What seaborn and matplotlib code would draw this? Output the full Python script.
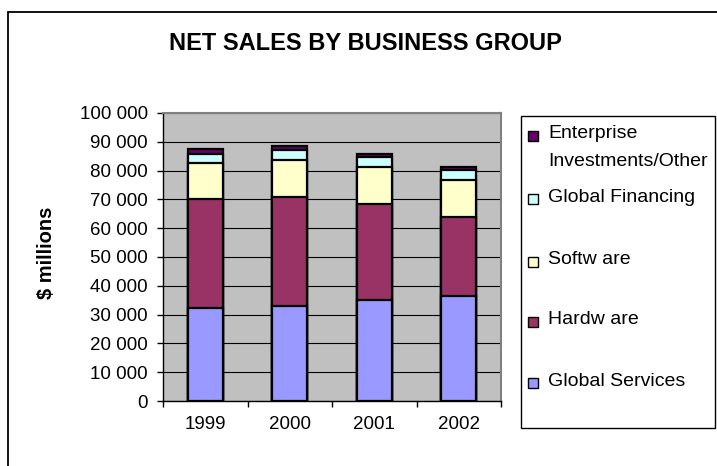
import matplotlib
matplotlib.use("Agg")
import matplotlib.pyplot as plt
from matplotlib.patches import Rectangle
from matplotlib.ticker import FuncFormatter, FixedLocator
import seaborn as sns
import pandas as pd

# Net sales by business group, $ millions
years = ["1999", "2000", "2001", "2002"]
global_services = [32172, 33152, 34956, 36360]
hardware = [37888, 37777, 33392, 27456]
software = [12662, 12598, 12939, 13074]
global_financing = [3137, 3465, 3426, 3232]
enterprise_other = [1689, 1404, 1153, 1064]

groups = ["Global Services", "Hardware", "Software", "Global Financing",
          "Enterprise Investments/Other"]
legend_labels = ["Global Services", "Hardw are", "Softw are", "Global Financing",
                 "Enterprise\nInvestments/Other"]
colors = ["#9999FF", "#993366", "#FFFFCC", "#CCFFFF", "#660066"]

df = pd.DataFrame({
    "year": years,
    "Global Services": global_services,
    "Hardware": hardware,
    "Software": software,
    "Global Financing": global_financing,
    "Enterprise Investments/Other": enterprise_other,
})
# cumulative tops for stacking
cum = df[groups].cumsum(axis=1)
cum["year"] = years

plt.rcParams["font.family"] = ["Liberation Sans", "DejaVu Sans"]

W, H = 717, 466
fig = plt.figure(figsize=(W / 100, H / 100), dpi=100)
ax = fig.add_axes([163 / W, 1 - 401 / H, (501 - 163) / W, (401 - 113) / H])
ax.set_facecolor("#C0C0C0")

# draw tallest stack first so each lower segment overlays it
for g, c in reversed(list(zip(groups, colors))):
    sns.barplot(data=cum, x="year", y=g, color=c, saturation=1, width=0.414,
                edgecolor="black", linewidth=1.6, errorbar=None, ax=ax, zorder=3)

ax.set_xlim(-0.5, 3.5)
ax.set_ylim(0, 100000)
ax.set_xlabel("")
ax.set_ylabel("")
ax.yaxis.set_major_locator(FixedLocator(range(0, 100001, 10000)))
ax.yaxis.set_major_formatter(FuncFormatter(lambda v, p: f"{v:,.0f}".replace(",", " ")))
ax.yaxis.grid(True, color="#000000", linewidth=0.8, zorder=1)
ax.set_axisbelow(True)

ax.tick_params(axis="y", direction="out", length=4, width=1, pad=7,
               labelsize=13.5, colors="black")
ax.tick_params(axis="x", which="major", length=0, pad=11, labelsize=13.5)
ax.set_xticks([-0.5, 0.5, 1.5, 2.5, 3.5], minor=True)
ax.tick_params(axis="x", which="minor", direction="out", length=4, width=1)

for s in ["left", "bottom"]:
    ax.spines[s].set_color("black")
    ax.spines[s].set_linewidth(1)
for s in ["top", "right"]:
    ax.spines[s].set_color("#808080")
    ax.spines[s].set_linewidth(1.5)

fig.text(365 / W, 1 - 44 / H, "NET SALES BY BUSINESS GROUP", ha="center",
         va="center", fontsize=17, fontweight="bold")
fig.text(46 / W, 1 - 253 / H, "$ millions", ha="center", va="center",
         rotation=90, fontsize=14.5, fontweight="bold")

# chart frame
fig.patches.append(Rectangle((8 / W, -0.1), 1.2, 1.1 - 12 / H, transform=fig.transFigure,
                             fill=False, edgecolor="black", linewidth=1.3))

# legend box
fig.patches.append(Rectangle((521 / W, 1 - 428 / H), (715 - 521) / W, (428 - 116) / H,
                             transform=fig.transFigure, fill=False,
                             edgecolor="black", linewidth=1))
entry_y = [383, 322, 262, 199, 136]
for lab, c, y in zip(legend_labels, colors, entry_y):
    fig.patches.append(Rectangle((528 / W, 1 - (y + 5) / H), 10 / W, 10 / H,
                                 transform=fig.transFigure, facecolor=c,
                                 edgecolor="black", linewidth=1))
    for i, line in enumerate(lab.split("\n")):
        fig.text(548 / W, 1 - (y - 2 + 28 * i) / H, line, ha="left",
                 va="center", fontsize=14)

fig.savefig("out.png", dpi=100)
